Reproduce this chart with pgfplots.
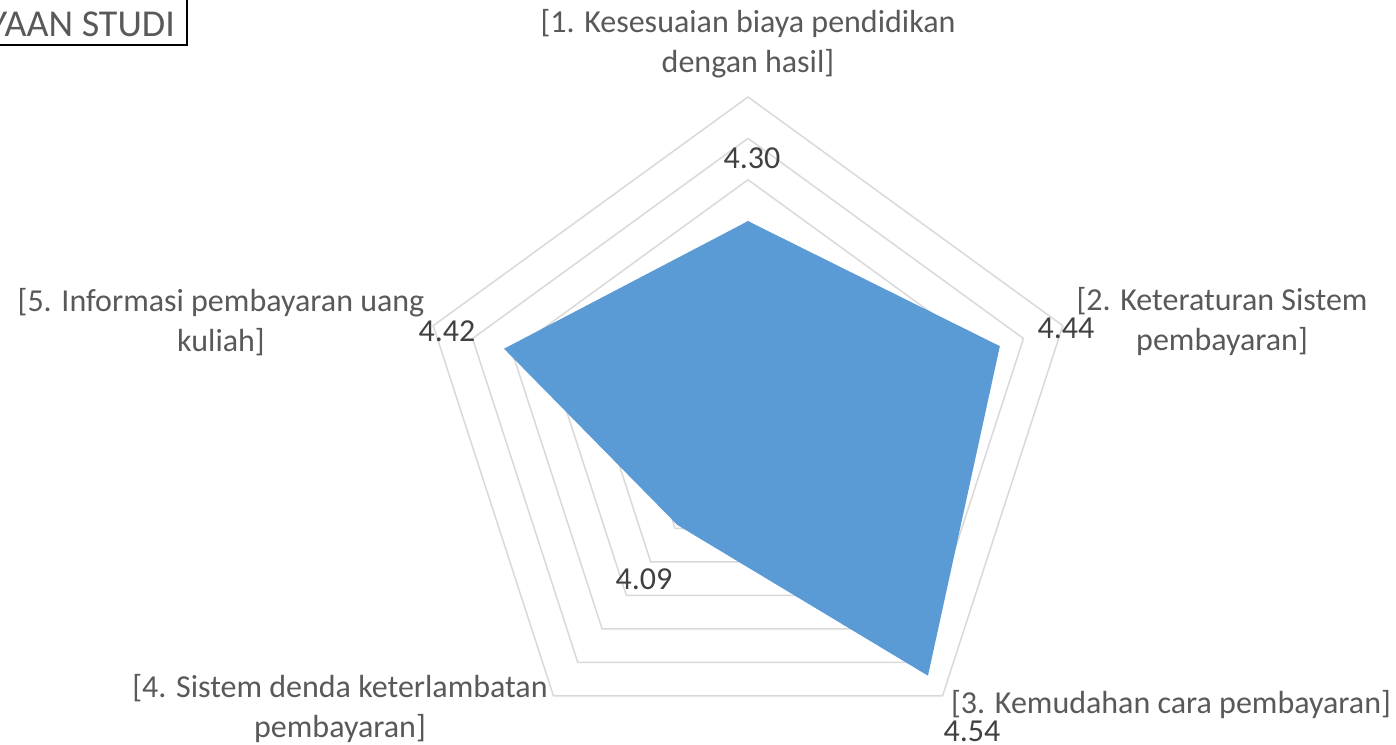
\documentclass[border=0pt]{standalone}
\usepackage{pgfplots}
\pgfplotsset{compat=1.18}
\usepackage{pgfplotstable}
\usepackage{fontspec}
\setmainfont{Carlito}

\definecolor{fillblue}{HTML}{5B9BD5}
\definecolor{gridgray}{HTML}{D9D9D9}
\definecolor{labgray}{HTML}{595959}
\definecolor{numgray}{HTML}{404040}

% angle (deg), score
\pgfplotstableread{
a v
90 4.30
18 4.44
-54 4.54
-126 4.09
-198 4.42
}\scores

% pentagon corners for the grid rings
\pgfplotstableread{
a k
90 1
18 1
-54 1
-126 1
-198 1
90 1
}\pentagon

\begin{document}
\begin{tikzpicture}[x=1pt,y=1pt]
\useasboundingbox (0,0) rectangle (1396,744);

\begin{axis}[
  at={(748pt,316pt)}, anchor=center,
  x=413.75pt, y=413.75pt,
  xmin=-0.85, xmax=0.85, ymin=-0.85, ymax=0.85,
  hide axis, clip=false,
]
% rings from 3.8 (centre) to 4.6, step 0.1
\pgfplotsinvokeforeach{0.1,0.2,0.3,0.4,0.5,0.6,0.7,0.8}{
  \addplot[gridgray, line width=1.5pt, mark=none]
    table[x expr={#1*cos(\thisrow{a})}, y expr={#1*sin(\thisrow{a})}] {\pentagon};
}
\addplot[fill=fillblue, draw=none, mark=none]
  table[x expr={(\thisrow{v}-3.8)*cos(\thisrow{a})},
        y expr={(\thisrow{v}-3.8)*sin(\thisrow{a})}] {\scores};
\end{axis}

% data labels
\begin{scope}[every node/.style={numgray, font=\fontsize{32}{40}\selectfont, inner sep=0pt}]
\node at (752,586) {4.30};
\node at (1066,416) {4.44};
\node at (972,12.5) {4.54};
\node at (644,165) {4.09};
\node at (447,413) {4.42};
\end{scope}

% category labels
\begin{scope}[every node/.style={labgray, font=\fontsize{32}{40}\selectfont, align=center, inner sep=0pt}]
\node at (748,700) {[1. Kesesuaian biaya pendidikan\\dengan hasil]};
\node at (1222,422) {[2. Keteraturan Sistem\\pembayaran]};
\node at (1171,39) {[3. Kemudahan cara pembayaran]};
\node at (340,35.5) {[4. Sistem denda keterlambatan\\pembayaran]};
\node at (221,421.5) {[5. Informasi pembayaran uang\\kuliah]};
\end{scope}

% title box, cut by the left edge
\node[anchor=base east, labgray, font=\fontsize{38}{44}\selectfont, inner sep=0pt] at (175,707) {PEMBIAYAAN STUDI};
\draw[black, line width=1.2pt] (-20,699) -- (187,699) -- (187,760);
\end{tikzpicture}
\end{document}
